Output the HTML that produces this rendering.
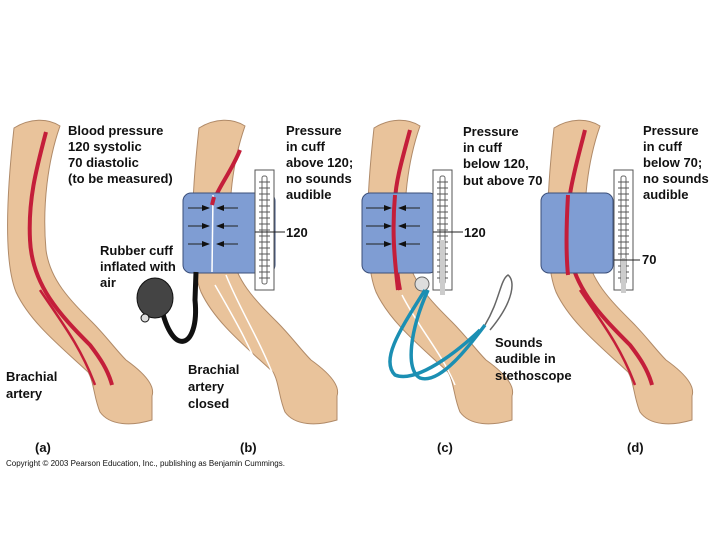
<!DOCTYPE html>
<html><head><meta charset="utf-8"><style>
body{margin:0;background:#fff}
svg{display:block}
text{font-family:"Liberation Sans",Arial,sans-serif;font-weight:bold;font-size:13px;fill:#111}
</style></head><body>
<svg width="720" height="540" viewBox="0 0 720 540" xmlns="http://www.w3.org/2000/svg">
<defs>
<marker id="ah" markerWidth="8" markerHeight="6" refX="7" refY="3" orient="auto"><path d="M0 0L8 3L0 6Z" fill="#111"/></marker>
<path id="arm" d="M14 128 C30 118 48 118 60 126 C48 160 42 205 46 250 C50 280 70 300 92 322 C106 336 116 350 126 360 C140 370 156 384 152 396 L152 420 C132 426 110 426 100 412 C94 398 94 382 88 372 C60 346 30 322 16 292 C4 262 6 200 14 128 Z" fill="#e9c39b" stroke="#b08a68" stroke-width="1"/>
<g id="gauge"><rect x="0" y="0" width="19" height="120" fill="#fff" stroke="#555"/><rect x="7" y="6" width="5" height="108" rx="2" fill="#fff" stroke="#666"/>
<g stroke="#555" stroke-width="1"><path d="M4 12h11M4 18h11M4 24h11M4 30h11M4 36h11M4 42h11M4 48h11M4 54h11M4 60h11M4 66h11M4 72h11M4 78h11M4 84h11M4 90h11M4 96h11M4 102h11M4 108h11"/></g></g>
</defs>
<use href="#arm" x="0"/>
<use href="#arm" x="185"/>
<use href="#arm" x="360"/>
<use href="#arm" x="540"/>
<g fill="none" stroke="#c41e3a" stroke-width="4">
<path d="M46 132 C36 170 28 200 30 240 C32 285 60 315 90 345 C100 358 108 370 112 385"/>
<path d="M40 290 C60 320 80 345 95 385" stroke-width="2.5"/>
<path d="M585 130 C575 170 565 200 568 240 C570 285 600 315 630 345 C640 358 648 370 652 385"/>
<path d="M580 290 C600 320 620 345 635 385" stroke-width="2.5"/>
<path d="M240 150 C232 170 220 185 214 200"/>
<path d="M410 130 C402 160 396 180 395 200 C394 240 396 270 400 290"/>
</g>
<g fill="none" stroke="#fff" stroke-width="1.5">
<path d="M226 275 C240 310 260 340 275 380"/><path d="M215 285 C235 320 250 345 265 385"/>
<path d="M402 295 C420 330 440 350 455 385"/>
</g>
<rect x="183" y="193" width="92" height="80" rx="8" fill="#7f9dd3" stroke="#3b4f7a"/>
<rect x="362" y="193" width="75" height="80" rx="8" fill="#7f9dd3" stroke="#3b4f7a"/>
<rect x="541" y="193" width="72" height="80" rx="8" fill="#7f9dd3" stroke="#3b4f7a"/>
<path d="M213 195 L212 272" stroke="#fff" stroke-width="1.5"/>
<g fill="none" stroke="#c41e3a" stroke-width="4"><path d="M214 197 L212 205"/><path d="M395 195 C392 230 394 255 398 290"/>
<path d="M568 195 C566 230 566 255 568 275"/></g>
<g stroke="#222" stroke-width="1" marker-end="url(#ah)">
<path d="M188 208h21"/><path d="M238 208h-21"/><path d="M188 226h21"/><path d="M238 226h-21"/><path d="M188 244h21"/><path d="M238 244h-21"/>
<path d="M366 208h25"/><path d="M420 208h-21"/><path d="M366 226h25"/><path d="M420 226h-21"/><path d="M366 244h25"/><path d="M420 244h-21"/>
</g>
<use href="#gauge" x="255" y="170"/>
<use href="#gauge" x="433" y="170"/>
<use href="#gauge" x="614" y="170"/>
<rect x="440" y="240" width="5" height="55" fill="#ccc"/>
<rect x="621" y="258" width="5" height="35" fill="#ccc"/>
<path d="M255 232h30M433 232h30M614 260h26" stroke="#222"/>
<path d="M160 300 C170 360 200 350 195 300 L196 272" fill="none" stroke="#111" stroke-width="5"/>
<ellipse cx="155" cy="298" rx="18" ry="20" fill="#444" stroke="#111"/>
<circle cx="145" cy="318" r="4" fill="#ddd" stroke="#111"/>
<circle cx="422" cy="284" r="7" fill="#ddd" stroke="#666"/>
<g fill="none" stroke="#1b8fb3" stroke-width="3.5">
<path d="M425 290 C400 330 380 360 395 375 C420 385 470 340 480 330"/>
<path d="M428 290 C410 330 405 370 420 378 C440 385 470 345 485 325"/>
</g>
<path d="M485 325 C500 300 500 280 508 275 C515 280 515 300 490 330" fill="none" stroke="#666" stroke-width="1.5"/>
<text x="68" y="135">Blood pressure</text><text x="68" y="151">120 systolic</text><text x="68" y="167">70 diastolic</text><text x="68" y="183">(to be measured)</text>
<text x="100" y="255">Rubber cuff</text><text x="100" y="271">inflated with</text><text x="100" y="287">air</text>
<text x="6" y="381">Brachial</text><text x="6" y="398">artery</text>
<text x="188" y="374">Brachial</text><text x="188" y="391">artery</text><text x="188" y="408">closed</text>
<text x="286" y="135">Pressure</text><text x="286" y="151">in cuff</text><text x="286" y="167">above 120;</text><text x="286" y="183">no sounds</text><text x="286" y="199">audible</text>
<text x="286" y="237">120</text>
<text x="463" y="136">Pressure</text><text x="463" y="152">in cuff</text><text x="463" y="168">below 120,</text><text x="463" y="185">but above 70</text>
<text x="464" y="237">120</text>
<text x="495" y="347">Sounds</text><text x="495" y="363">audible in</text><text x="495" y="380">stethoscope</text>
<text x="643" y="135">Pressure</text><text x="643" y="151">in cuff</text><text x="643" y="167">below 70;</text><text x="643" y="183">no sounds</text><text x="643" y="199">audible</text>
<text x="642" y="264">70</text>
<text x="35" y="452">(a)</text><text x="240" y="452">(b)</text><text x="437" y="452">(c)</text><text x="627" y="452">(d)</text>
<text x="6" y="466" style="font-size:8px;font-weight:normal">Copyright © 2003 Pearson Education, Inc., publishing as Benjamin Cummings.</text>
</svg>
</body></html>
